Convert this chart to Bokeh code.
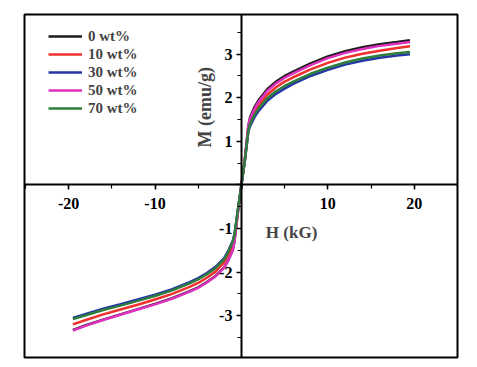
import math
from bokeh.plotting import figure
from bokeh.models import Range1d, SingleIntervalTicker, Label, Legend, LegendItem
from bokeh.embed import file_html
from bokeh.resources import INLINE

# ---- data ----
H = [-19.5, -18, -16, -14, -12, -10, -8, -6, -5, -4, -3, -2, -1.5, -1, -0.8, -0.4,
     0, 0.4, 0.8, 1, 1.5, 2, 3, 4, 5, 6, 8, 10, 12, 14, 16, 18, 19.5]

M_0 = [-3.33, -3.22, -3.09, -2.97, -2.85, -2.73, -2.6, -2.44, -2.35, -2.23, -2.09, -1.89, -1.72, -1.49, -1.29, -0.61,
       0, 0.6, 1.35, 1.55, 1.78, 1.95, 2.2, 2.37, 2.5, 2.6, 2.79, 2.95, 3.07, 3.16, 3.23, 3.28, 3.32]
M_10 = [-3.2, -3.1, -2.97, -2.86, -2.75, -2.63, -2.5, -2.34, -2.25, -2.13, -1.99, -1.78, -1.6, -1.38, -1.2, -0.58,
        0, 0.58, 1.3, 1.46, 1.67, 1.83, 2.07, 2.24, 2.37, 2.47, 2.65, 2.8, 2.92, 3.01, 3.08, 3.14, 3.18]
M_30 = [-3.05, -2.96, -2.84, -2.74, -2.63, -2.52, -2.39, -2.23, -2.14, -2.02, -1.88, -1.68, -1.5, -1.28, -1.12, -0.55,
        0, 0.55, 1.22, 1.35, 1.55, 1.7, 1.93, 2.09, 2.21, 2.32, 2.5, 2.64, 2.76, 2.85, 2.92, 2.97, 3.0]
M_50 = [-3.34, -3.23, -3.1, -2.98, -2.86, -2.74, -2.61, -2.45, -2.36, -2.24, -2.1, -1.9, -1.73, -1.5, -1.3, -0.62,
        0, 0.6, 1.38, 1.52, 1.74, 1.91, 2.16, 2.33, 2.46, 2.56, 2.75, 2.91, 3.03, 3.12, 3.19, 3.24, 3.28]
M_70 = [-3.08, -2.99, -2.87, -2.77, -2.66, -2.55, -2.42, -2.26, -2.17, -2.05, -1.91, -1.71, -1.53, -1.3, -1.14, -0.56,
        0, 0.56, 1.25, 1.4, 1.6, 1.76, 1.99, 2.15, 2.27, 2.37, 2.55, 2.69, 2.81, 2.9, 2.97, 3.02, 3.05]

series_names = ["0 wt%", "10 wt%", "30 wt%", "50 wt%", "70 wt%"]
series_values = [M_0, M_10, M_30, M_50, M_70]
series_colors = ["#1c1c1c", "#f0302c", "#2436a8", "#e030c0", "#2f7d3a"]

x_tick_labels = {-20: "-20", -10: "-10", 0: "", 10: "10", 20: "20"}
y_tick_labels = {-3: "-3", -2: "-2", -1: "-1", 0: "", 1: "1", 2: "2", 3: "3"}

FONT = "Liberation Serif"

p = figure(width=468, height=362, output_backend="svg", toolbar_location=None,
           x_range=Range1d(-25.1, 25.0), y_range=Range1d(-3.96, 3.91),
           min_border_left=24, min_border_right=11, min_border_top=14, min_border_bottom=5)
p.background_fill_color = "white"
p.border_fill_color = "white"
p.outline_line_color = "black"
p.outline_line_width = 2
p.xgrid.visible = False
p.ygrid.visible = False

# axes crossing at origin
p.xaxis.fixed_location = 0
p.yaxis.fixed_location = 0
p.xaxis.ticker = SingleIntervalTicker(interval=10, num_minor_ticks=2)
p.yaxis.ticker = SingleIntervalTicker(interval=1, num_minor_ticks=2)
p.xaxis.major_label_overrides = x_tick_labels
p.yaxis.major_label_overrides = y_tick_labels
for ax in (p.xaxis, p.yaxis):
    ax.axis_line_width = 2
    ax.axis_line_color = "black"
    ax.major_tick_line_width = 1.5
    ax.minor_tick_line_width = 1.2
    ax.major_tick_in = 0
    ax.major_tick_out = 5
    ax.minor_tick_in = 0
    ax.minor_tick_out = 4
    ax.major_label_text_font = FONT
    ax.major_label_text_font_style = "bold"
    ax.major_label_text_font_size = "16px"
    ax.major_label_text_color = "black"
p.xaxis.major_label_standoff = 8
p.yaxis.major_label_standoff = 4

renderers = []
for name, vals, col in zip(series_names, series_values, series_colors):
    r = p.line(H, vals, line_color=col, line_width=2.5)
    renderers.append((name, r))

legend = Legend(items=[LegendItem(label=n, renderers=[r]) for n, r in renderers],
                location=(24, 240))
legend.padding = 0
legend.margin = 0
legend.spacing = 0
legend.glyph_height = 18
legend.label_height = 18
legend.glyph_width = 34
legend.label_standoff = 6
legend.border_line_color = None
legend.background_fill_alpha = 0
legend.label_text_font = FONT
legend.label_text_font_style = "bold"
legend.label_text_font_size = "15px"
p.add_layout(legend, "center")

p.add_layout(Label(x=-4.17, y=1.78, text="M (emu/g)", angle=math.pi / 2,
                   text_align="center", text_baseline="middle",
                   text_font=FONT, text_font_style="bold", text_font_size="18px"))
p.add_layout(Label(x=5.8, y=-1.09, text="H (kG)",
                   text_align="center", text_baseline="middle",
                   text_font=FONT, text_font_style="bold", text_font_size="17px"))

open("out.html", "w").write(file_html(p, INLINE))
